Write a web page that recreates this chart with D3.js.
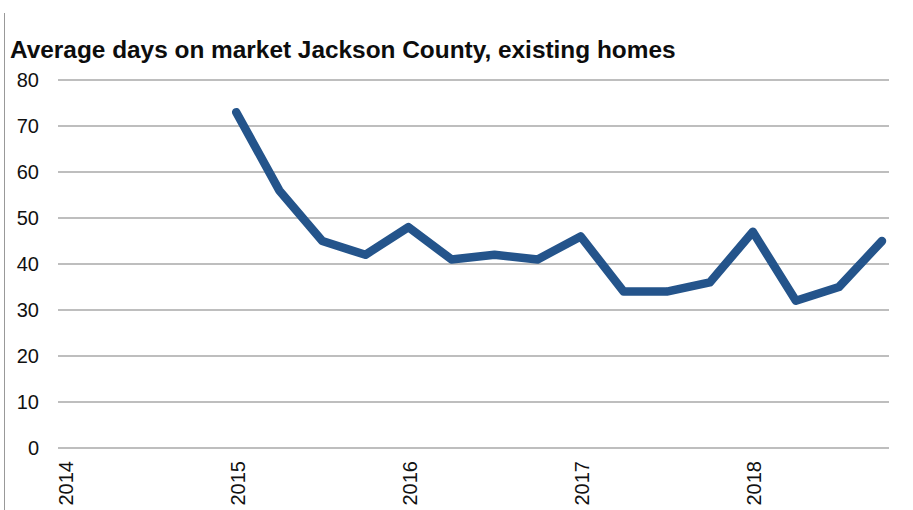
<!DOCTYPE html>
<html>
<head>
<meta charset="utf-8">
<script src="https://cdn.jsdelivr.net/npm/d3@7"></script>
<style>
  body { margin: 0; background: #fff; }
  svg { display: block; font-family: "Liberation Sans", Arial, sans-serif; }
</style>
</head>
<body>
<div id="wrapper"></div>
<script>
// data: quarterly average days on market (2014 has no values)
const years = [2014, 2015, 2016, 2017, 2018]
const quarters = [
  2014, 2014.25, 2014.5, 2014.75,
  2015, 2015.25, 2015.5, 2015.75,
  2016, 2016.25, 2016.5, 2016.75,
  2017, 2017.25, 2017.5, 2017.75,
  2018, 2018.25, 2018.5, 2018.75,
]
const days = [
  null, null, null, null,
  73, 56, 45, 42,
  48, 41, 42, 41,
  46, 34, 34, 36,
  47, 32, 35, 45,
]
const yTicks = [0, 10, 20, 30, 40, 50, 60, 70, 80]
const title = "Average days on market Jackson County, existing homes"

const data = quarters.map((q, i) => ({ q, v: days[i] }))

const dimensions = {
  width: 913,
  height: 510,
  margin: { top: 80, right: 31, bottom: 62, left: 64 },
}
dimensions.boundedWidth = dimensions.width
  - dimensions.margin.left - dimensions.margin.right
dimensions.boundedHeight = dimensions.height
  - dimensions.margin.top - dimensions.margin.bottom

const wrapper = d3.select("#wrapper")
  .append("svg")
  .attr("width", dimensions.width)
  .attr("height", dimensions.height)

// left border line
wrapper.append("line")
  .attr("x1", 4.5).attr("x2", 4.5)
  .attr("y1", 13).attr("y2", dimensions.height)
  .attr("stroke", "#999")
  .attr("stroke-width", 1)

wrapper.append("text")
  .attr("x", 10)
  .attr("y", 58)
  .attr("fill", "#0d0d0d")
  .style("font-size", "24.4px")
  .style("font-weight", "bold")
  .text(title)

const bounds = wrapper.append("g")
  .attr("transform", `translate(${dimensions.margin.left},${dimensions.margin.top})`)

// scales
const xScale = d3.scaleLinear()
  .domain([2014, 2018.75])
  .range([0, dimensions.boundedWidth])

const yScale = d3.scaleLinear()
  .domain([0, 80])
  .range([dimensions.boundedHeight, 0])

// gridlines
const pad = 6
bounds.append("g")
  .selectAll("line")
  .data(yTicks)
  .join("line")
    .attr("x1", -pad)
    .attr("x2", xScale.range()[1] + pad + 1)
    .attr("y1", d => yScale(d))
    .attr("y2", d => yScale(d))
    .attr("stroke", "#a8a8a8")
    .attr("stroke-width", 1.6)

// y axis
const yAxisGenerator = d3.axisLeft(yScale)
  .tickValues(yTicks)
  .tickSize(0)
  .tickPadding(25)

const yAxis = bounds.append("g")
  .call(yAxisGenerator)
yAxis.select(".domain").remove()
yAxis.selectAll("text")
  .attr("fill", "#111")
  .style("font-size", "20px")
  .style("font-family", "'Liberation Sans', Arial, sans-serif")

// x axis
const xAxisGenerator = d3.axisBottom(xScale)
  .tickValues(years)
  .tickFormat(d3.format("d"))
  .tickSize(0)

const xAxis = bounds.append("g")
  .attr("transform", `translate(0,${dimensions.boundedHeight})`)
  .call(xAxisGenerator)
xAxis.select(".domain").remove()
xAxis.selectAll("text")
  .attr("fill", "#111")
  .style("font-size", "20px")
  .style("font-family", "'Liberation Sans', Arial, sans-serif")
  .attr("text-anchor", "end")
  .attr("dy", "0.4em")
  .attr("x", -13)
  .attr("y", 0)
  .attr("transform", "rotate(-90)")

// line
const lineGenerator = d3.line()
  .defined(d => d.v != null)
  .x(d => xScale(d.q))
  .y(d => yScale(d.v))

bounds.append("path")
  .datum(data)
  .attr("d", lineGenerator)
  .attr("fill", "none")
  .attr("stroke", "#24548b")
  .attr("stroke-width", 8.5)
  .attr("stroke-linejoin", "round")
  .attr("stroke-linecap", "round")
</script>
</body>
</html>
